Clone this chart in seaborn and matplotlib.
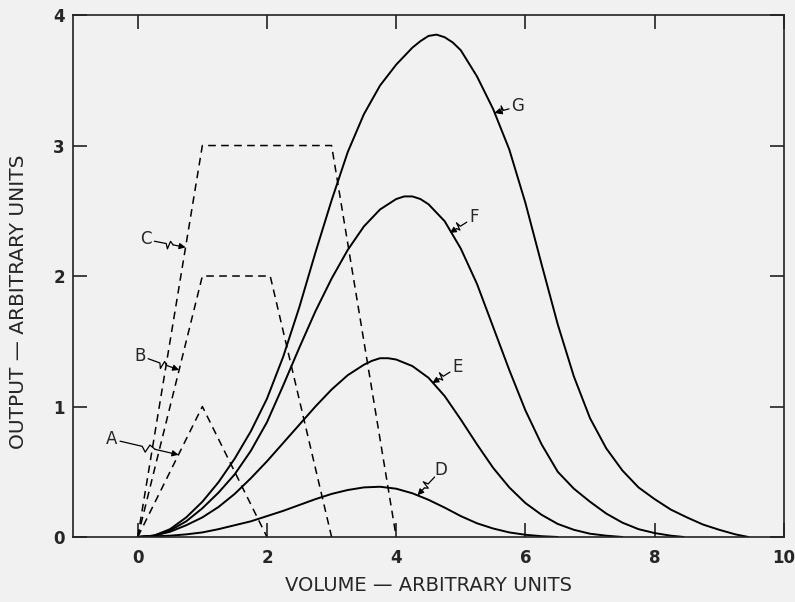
import numpy as np
import pandas as pd
import matplotlib
matplotlib.use("Agg")
import matplotlib.pyplot as plt
import seaborn as sns

# ---- data ----
a_x = [0, 1, 2]
a_y = [0, 1, 0]
b_x = [0, 1, 2.05, 3]
b_y = [0, 2, 2, 0]
c_x = [0, 1, 3, 4]
c_y = [0, 3, 3, 0]

d_x = [0, 0.5, 0.75, 1.0, 1.25, 1.5, 1.75, 2.0, 2.25, 2.5, 2.75, 3.0, 3.25, 3.5, 3.75, 4.0,
       4.25, 4.5, 4.75, 5.0, 5.25, 5.5, 5.75, 6.0, 6.25, 6.5]
d_y = [0, 0.01, 0.02, 0.035, 0.06, 0.09, 0.12, 0.16, 0.2, 0.245, 0.29, 0.33, 0.36, 0.38, 0.385, 0.37,
       0.335, 0.285, 0.225, 0.16, 0.105, 0.065, 0.035, 0.017, 0.006, 0]

e_x = [0, 0.25, 0.5, 0.75, 1.0, 1.25, 1.5, 1.75, 2.0, 2.25, 2.5, 2.75, 3.0, 3.25, 3.5, 3.625, 3.75,
       3.875, 4.0, 4.25, 4.5, 4.75, 5.0, 5.25, 5.5, 5.75, 6.0, 6.25, 6.5, 6.75, 7.0, 7.25, 7.5]
e_y = [0, 0.01, 0.04, 0.09, 0.15, 0.23, 0.33, 0.45, 0.58, 0.72, 0.86, 1.0, 1.13, 1.24, 1.32, 1.35, 1.37,
       1.37, 1.36, 1.31, 1.22, 1.08, 0.9, 0.71, 0.53, 0.38, 0.26, 0.17, 0.1, 0.055, 0.025, 0.01, 0]

f_x = [0, 0.25, 0.5, 0.75, 1.0, 1.25, 1.5, 1.75, 2.0, 2.25, 2.5, 2.75, 3.0, 3.25, 3.5, 3.75, 4.0,
       4.125, 4.25, 4.375, 4.5, 4.75, 5.0, 5.25, 5.5, 5.75, 6.0, 6.25, 6.5, 6.75, 7.0, 7.25, 7.5,
       7.75, 8.0, 8.25, 8.45]
f_y = [0, 0.01, 0.05, 0.12, 0.22, 0.34, 0.48, 0.66, 0.88, 1.16, 1.45, 1.73, 1.98, 2.2, 2.38, 2.51, 2.59,
       2.61, 2.61, 2.59, 2.55, 2.42, 2.21, 1.94, 1.61, 1.28, 0.97, 0.71, 0.5, 0.37, 0.27, 0.18, 0.11,
       0.06, 0.03, 0.01, 0]

g_x = [0, 0.25, 0.5, 0.75, 1.0, 1.25, 1.5, 1.75, 2.0, 2.25, 2.5, 2.75, 3.0, 3.25, 3.5, 3.75, 4.0,
       4.25, 4.375, 4.5, 4.625, 4.75, 4.875, 5.0, 5.25, 5.5, 5.75, 6.0, 6.25, 6.5, 6.75, 7.0, 7.25,
       7.5, 7.75, 8.0, 8.25, 8.5, 8.75, 9.0, 9.25, 9.45]
g_y = [0, 0.01, 0.06, 0.15, 0.27, 0.42, 0.6, 0.81, 1.06, 1.38, 1.76, 2.18, 2.58, 2.95, 3.24, 3.46, 3.62,
       3.75, 3.8, 3.84, 3.85, 3.83, 3.79, 3.73, 3.53, 3.28, 2.97, 2.56, 2.09, 1.63, 1.23, 0.91, 0.68,
       0.51, 0.38, 0.29, 0.21, 0.15, 0.095, 0.055, 0.02, 0]

curve_labels = ["A", "B", "C", "D", "E", "F", "G"]
label_pos = [(-0.41, 0.75), (0.03, 1.39), (0.12, 2.28), (4.69, 0.51), (4.95, 1.30), (5.21, 2.45), (5.88, 3.30)]
label_tip = [(0.63, 0.63), (0.64, 1.28), (0.74, 2.22), (4.33, 0.32), (4.56, 1.18), (4.83, 2.33), (5.52, 3.25)]

x_ticks = [0, 2, 4, 6, 8, 10]
y_ticks = [0, 1, 2, 3, 4]

# ---- plotting ----
sns.set_style("ticks")
bg = "#f1f1f1"
plt.rcParams['font.family'] = ['DejaVu Sans']

fig = plt.figure(figsize=(7.95, 6.02), dpi=100, facecolor=bg)
ax = fig.add_axes([0.092, 0.108, 0.894, 0.867])
ax.set_facecolor(bg)

dashed = [(a_x, a_y), (b_x, b_y), (c_x, c_y)]
solid = [(d_x, d_y), (e_x, e_y), (f_x, f_y), (g_x, g_y)]
for xs, ys in dashed:
    sns.lineplot(x=xs, y=ys, ax=ax, color="black", lw=1.1, estimator=None, sort=False,
                 linestyle=(0, (5, 3.5)))
for xs, ys in solid:
    sns.lineplot(x=xs, y=ys, ax=ax, color="black", lw=1.4, estimator=None, sort=False)

ax.set_xlim(-1, 10)
ax.set_ylim(0, 4)
ax.set_xticks(x_ticks)
ax.set_yticks(y_ticks)
ax.set_xticklabels([str(t) for t in x_ticks], fontsize=12, fontweight="bold")
ax.set_yticklabels([str(t) for t in y_ticks], fontsize=12, fontweight="bold")
ax.tick_params(axis="both", direction="in", length=10, width=1.2, color="#222222",
               top=True, right=True, labeltop=False, labelright=False, pad=6)
ax.tick_params(axis="x", pad=9)
for s in ax.spines.values():
    s.set_linewidth(1.2)
    s.set_color("#222222")

ax.set_xlabel("VOLUME — ARBITRARY UNITS", fontsize=14, labelpad=6)
ax.set_ylabel("OUTPUT — ARBITRARY UNITS", fontsize=14.5)
ax.yaxis.set_label_coords(-0.063, 0.45)

# zig-zag pointer labels
inv = ax.transData.inverted()
for lab, (lx, ly), (tx, ty) in zip(curve_labels, label_pos, label_tip):
    ax.text(lx, ly, lab, fontsize=12, ha="center", va="center")
    p0 = ax.transData.transform((lx, ly))
    p1 = ax.transData.transform((tx, ty))
    v = p1 - p0
    L = np.hypot(*v)
    u = v / L
    n = np.array([-u[1], u[0]])
    start = p0 + u * 9
    seg = p1 - start
    pts = [start,
           start + seg * 0.38,
           start + seg * 0.45 - n * 5,
           start + seg * 0.5 + n * 3,
           start + seg * 0.6]
    dpts = inv.transform(np.array(pts))
    ax.plot(dpts[:, 0], dpts[:, 1], color="black", lw=0.9)
    ax.annotate("", xy=(tx, ty), xytext=tuple(dpts[-1]),
                arrowprops=dict(arrowstyle="-|>", color="black", lw=0.9,
                                mutation_scale=9, shrinkA=0, shrinkB=0))

fig.savefig("out.png", dpi=100, facecolor=bg)
